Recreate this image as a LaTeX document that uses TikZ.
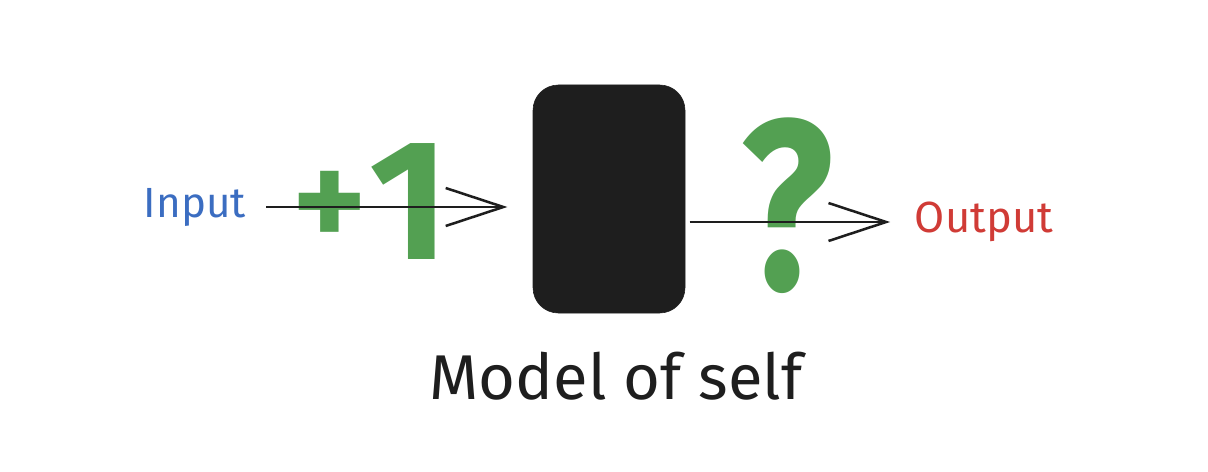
\documentclass[tikz,border=0pt]{standalone}
\usepackage{fontspec}
\setmainfont{Fira Sans}
\usetikzlibrary{arrows.meta,positioning}
\definecolor{inkblue}{HTML}{3B6DC1}
\definecolor{inkred}{HTML}{D03B36}
\definecolor{inkgreen}{HTML}{53A052}
\definecolor{inkdark}{HTML}{1E1E1E}
\tikzset{
  flow/.style={line width=1.8pt, inkdark, -{Straight Barb[length=41pt,width=27pt,line width=1.8pt]}},
  mark green/.style={text=inkgreen, inner sep=0pt},
}
\begin{document}
\begin{tikzpicture}[x=0.025cm,y=-0.025cm]
		\useasboundingbox (0,0) rectangle (1208,472);
		
		\node[text=inkblue, font=\fontsize{30}{30}\selectfont] (input) at (195,207) {Input};
		\node[draw=inkdark, fill=inkdark, rounded corners=18pt, minimum width=152*0.025cm, minimum height=228*0.025cm] (box) at (609,199) {};
		\node[text=inkred, font=\fontsize{31}{31}\selectfont] (output) at (984,222) {Output};
		\node[font=\fontsize{45}{45}\selectfont, text=inkdark] (label) at (616,376) {Model of self};
		
		\node[mark green, font=\fontsize{100}{100}\selectfont\bfseries] (plus) at (330,210) {+};
		\node[mark green, font=\fontsize{122}{122}\selectfont\bfseries] (one) at (409,202) {1};
		\node[mark green, font=\fontsize{172}{172}\selectfont\bfseries, xscale=0.8] (quest) at (787,206) {?};
		
		\draw[flow, shorten <=11pt, shorten >=18pt] (input.east) -- (box.west |- input.east);
		\draw[flow, shorten <=3pt, shorten >=14pt] (box.east |- output.west) -- (output.west);
	\end{tikzpicture}
\end{document}
